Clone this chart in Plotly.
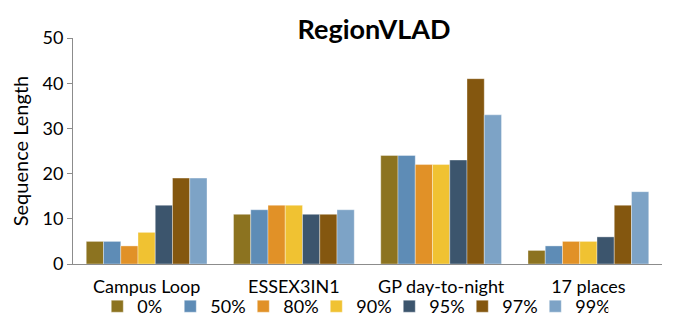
import plotly.graph_objects as go

categories = ["Campus Loop", "ESSEX3IN1", "GP day-to-night", "17 places"]
series_names = ["0%", "50%", "80%", "90%", "95%", "97%", "99%"]
values = {
    "0%":  [5, 11, 24, 3],
    "50%": [5, 12, 24, 4],
    "80%": [4, 13, 22, 5],
    "90%": [7, 13, 22, 5],
    "95%": [13, 11, 23, 6],
    "97%": [19, 11, 41, 13],
    "99%": [19, 12, 33, 16],
}
colors = ["#8C7320", "#5E8CB6", "#E19127", "#F0C232", "#3C556D", "#84570F", "#7DA3C6"]
y_ticks = [0, 10, 20, 30, 40, 50]

FONT = "Lato"
fig = go.Figure()
for name, c in zip(series_names, colors):
    fig.add_trace(go.Bar(
        x=categories, y=values[name], name=name,
        marker=dict(color=c, line=dict(color="rgba(255,255,255,0.6)", width=0.6)),
    ))

# page body has an 8px default margin, so the figure is drawn 8px in from the corner
fig.update_layout(
    width=668, height=309,
    margin=dict(l=65, r=14, t=30, b=53, autoexpand=False),
    paper_bgcolor="white", plot_bgcolor="white",
    barmode="group", bargap=0.18, bargroupgap=0,
    font=dict(family=FONT, color="black"),
    title=dict(text="<b>RegionVLAD</b>", x=0.548, xanchor="center", y=0.929, yanchor="middle",
               font=dict(size=27, family=FONT, color="black")),
    legend=dict(orientation="h", x=0.475, xanchor="center", y=-0.188, yanchor="middle",
                font=dict(size=18, family=FONT), itemwidth=30, tracegroupgap=0,
                entrywidth=28, entrywidthmode="pixels",
                bgcolor="rgba(0,0,0,0)"),
    showlegend=True,
)
fig.update_xaxes(
    showline=True, linecolor="#8C8C8C", linewidth=1,
    ticks="outside", ticklen=6, tickcolor="rgba(0,0,0,0)",
    tickfont=dict(size=18, family=FONT, color="black"), showgrid=False,
)
fig.update_yaxes(
    range=[0, 50], tickvals=y_ticks, showgrid=False, zeroline=False,
    showline=True, linecolor="#8C8C8C", linewidth=1,
    ticks="outside", ticklen=5, tickcolor="#8C8C8C",
    tickfont=dict(size=18, family=FONT, color="black"),
    title=dict(text="Sequence Length", font=dict(size=20, family=FONT, color="black"), standoff=17),
)
fig.write_html("out.html")
